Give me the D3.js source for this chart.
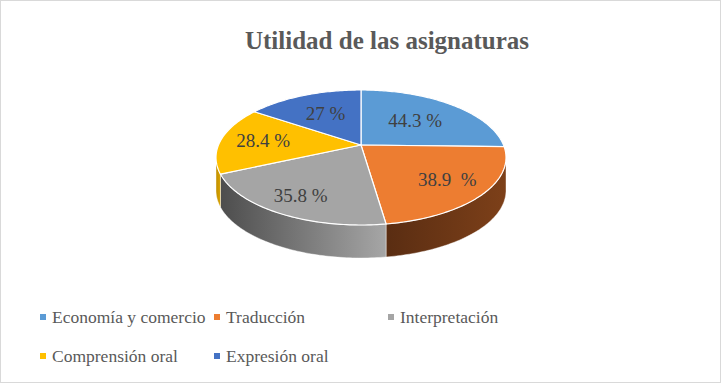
<!DOCTYPE html>
<html>
<head>
<meta charset="utf-8">
<script src="https://cdn.jsdelivr.net/npm/d3@7"></script>
<style>
  body { margin: 0; background: #fff; }
  svg { display: block; }
</style>
</head>
<body>
<div id="chart"></div>
<script>
// data
var categories = ["Economía y comercio", "Traducción", "Interpretación", "Comprensión oral", "Expresión oral"];
var values = [44.3, 38.9, 35.8, 28.4, 27];
var labels = ["44.3 %", "38.9  %", "35.8 %", "28.4 %", "27 %"];
var title = "Utilidad de las asignaturas";

var colors = ["#5B9BD5", "#ED7D31", "#A5A5A5", "#FFC000", "#4472C4"];
var wallColors = [["#3d6c99", "#2f5680"], ["#7d4019", "#5a2d12"], ["#a6a6a6", "#4d4d4d"], ["#d9a300", "#c08f00"], ["#2f5190", "#253f70"]];

var width = 722, height = 384;
var cx = 361, cy = 145, rx = 142.5, ry = 65.2, p = 0.185, depth = 33;
// how far out along each slice its label sits
var labelRadius = [0.6, 0.71, 0.74, 0.7, 0.62];
var serif = "Liberation Serif";

var svg = d3.select("#chart").append("svg")
    .attr("width", width)
    .attr("height", height);

svg.append("rect")
    .attr("x", 0.5).attr("y", 0.5)
    .attr("width", width - 2).attr("height", height - 2)
    .attr("fill", "#fff")
    .attr("stroke", "#d9d9d9");

// simple perspective projection of the pie disk
function proj(a, f) {
    var u = Math.sin(a), v = Math.cos(a), s = 1 / (1 + p * v);
    return [cx + rx * f * u * s, cy - ry * f * v * s];
}

function arcPoints(a0, a1) {
    var n = Math.max(2, Math.ceil((a1 - a0) / (Math.PI / 180)));
    return d3.range(n + 1).map(function(i) { return proj(a0 + (a1 - a0) * i / n, 1); });
}

var pie = d3.pie().sort(null).value(function(d) { return d; });
var arcs = pie(values);

var defs = svg.append("defs");
var line = d3.line();

// visible side walls (front half)
var aRight = Math.acos(-p), aLeft = 2 * Math.PI - Math.acos(-p);
var walls = svg.append("g");
arcs.forEach(function(d, i) {
    var a0 = Math.max(d.startAngle, aRight), a1 = Math.min(d.endAngle, aLeft);
    if (a0 >= a1) return;
    var top = arcPoints(a0, a1);
    var bottom = top.map(function(pt) { return [pt[0], pt[1] + depth]; }).reverse();
    // light on the left, dark on the right
    var grad = defs.append("linearGradient")
        .attr("id", "wall" + i)
        .attr("x1", "1").attr("x2", "0").attr("y1", "0").attr("y2", "0");
    grad.append("stop").attr("offset", "0").attr("stop-color", wallColors[i][0]);
    grad.append("stop").attr("offset", "1").attr("stop-color", wallColors[i][1]);
    walls.append("path")
        .attr("d", line(top.concat(bottom)) + "Z")
        .attr("fill", "url(#wall" + i + ")")
        .attr("stroke", "#fff")
        .attr("stroke-width", 0.6)
        .attr("stroke-opacity", 0.7);
});

// top faces
var tops = svg.append("g");
arcs.forEach(function(d, i) {
    var pts = [[cx, cy]].concat(arcPoints(d.startAngle, d.endAngle));
    tops.append("path")
        .attr("d", line(pts) + "Z")
        .attr("fill", colors[i])
        .attr("stroke", "#fff")
        .attr("stroke-width", 1.2)
        .attr("stroke-linejoin", "round");
});

// data labels
arcs.forEach(function(d, i) {
    var pt = proj((d.startAngle + d.endAngle) / 2, labelRadius[i]);
    svg.append("text")
        .attr("x", pt[0]).attr("y", pt[1] + 6)
        .attr("text-anchor", "middle")
        .attr("font-family", serif)
        .style("white-space", "pre")
        .attr("font-size", 19)
        .attr("fill", "#404040")
        .text(labels[i]);
});

// title
svg.append("text")
    .attr("x", 387).attr("y", 49)
    .attr("text-anchor", "middle")
    .attr("font-family", serif)
    .attr("font-size", 25)
    .attr("font-weight", "bold")
    .attr("fill", "#595959")
    .text(title);

// legend
var legend = svg.append("g");
categories.forEach(function(c, i) {
    var col = i < 3 ? i : i - 3, row = i < 3 ? 0 : 1;
    var x = 40 + col * 174, y = 317 + row * 39;
    legend.append("rect")
        .attr("x", x).attr("y", y - 3)
        .attr("width", 6).attr("height", 6)
        .attr("fill", colors[i]);
    legend.append("text")
        .attr("x", x + 12).attr("y", y + 6)
        .attr("font-family", serif)
        .attr("font-size", 17.5)
        .attr("fill", "#595959")
        .text(c);
});
</script>
</body>
</html>
